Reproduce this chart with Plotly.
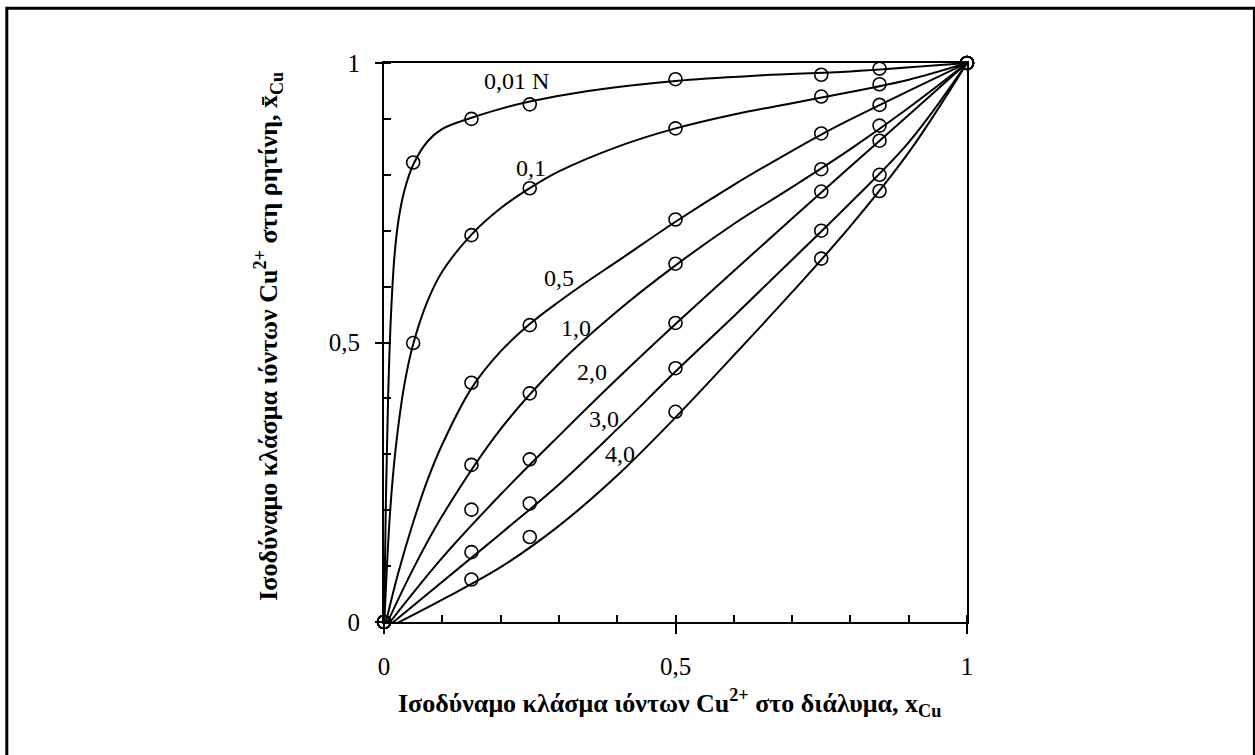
import plotly.graph_objects as go

# Normality of the solution for each isotherm
series_names = ["0,01 N", "0,1", "0,5", "1,0", "2,0", "3,0", "4,0"]

# Measured points: equivalent fraction of Cu2+ in solution (x) and in resin (y)
x_meas = [0, 0.05, 0.15, 0.25, 0.5, 0.75, 0.85, 1]
x_meas_late = [0, 0.15, 0.25, 0.5, 0.75, 0.85, 1]
y_meas_001 = [0, 0.822, 0.900, 0.926, 0.971, 0.979, 0.990, 1]
y_meas_01 = [0, 0.499, 0.692, 0.776, 0.883, 0.940, 0.962, 1]
y_meas_05 = [0, 0.428, 0.531, 0.720, 0.874, 0.925, 1]
y_meas_10 = [0, 0.281, 0.409, 0.641, 0.810, 0.888, 1]
y_meas_20 = [0, 0.201, 0.291, 0.535, 0.770, 0.861, 1]
y_meas_30 = [0, 0.125, 0.212, 0.454, 0.700, 0.800, 1]
y_meas_40 = [0, 0.076, 0.152, 0.376, 0.650, 0.771, 1]

# Fitted isotherm curves
x_fit_001 = [0, 0.003, 0.007, 0.012, 0.018, 0.025, 0.035, 0.05, 0.075, 0.1, 0.15, 0.2, 0.25, 0.35, 0.5, 0.65, 0.8, 1]
y_fit_001 = [-0.014, 0.20, 0.40, 0.55, 0.655, 0.72, 0.772, 0.818, 0.860, 0.882, 0.902, 0.918, 0.931, 0.950, 0.968, 0.978, 0.985, 1]
x_fit_01 = [0, 0.01, 0.02, 0.035, 0.05, 0.075, 0.1, 0.15, 0.2, 0.25, 0.3, 0.4, 0.5, 0.6, 0.7, 0.8, 0.9, 1]
y_fit_01 = [-0.014, 0.19, 0.31, 0.425, 0.497, 0.575, 0.627, 0.693, 0.740, 0.776, 0.806, 0.850, 0.883, 0.908, 0.928, 0.948, 0.970, 1]
x_fit_05 = [0, 0.025, 0.05, 0.075, 0.1, 0.15, 0.2, 0.25, 0.3, 0.35, 0.4, 0.5, 0.6, 0.7, 0.75, 0.8, 0.9, 1]
y_fit_05 = [-0.014, 0.090, 0.178, 0.255, 0.318, 0.418, 0.484, 0.533, 0.573, 0.610, 0.645, 0.716, 0.782, 0.843, 0.872, 0.899, 0.950, 1]
x_fit_10 = [0, 0.05, 0.1, 0.2, 0.3, 0.4, 0.5, 0.6, 0.7, 0.8, 0.9, 1]
y_fit_10 = [-0.014, 0.095, 0.190, 0.345, 0.462, 0.556, 0.638, 0.712, 0.778, 0.846, 0.920, 1]
x_fit_20 = [0, 0.1, 0.2, 0.3, 0.4, 0.5, 0.6, 0.7, 0.8, 0.9, 1]
y_fit_20 = [-0.014, 0.115, 0.228, 0.333, 0.435, 0.533, 0.628, 0.722, 0.815, 0.907, 1]
x_fit_30 = [0, 0.1, 0.2, 0.3, 0.4, 0.5, 0.6, 0.7, 0.8, 0.9, 1]
y_fit_30 = [-0.014, 0.072, 0.158, 0.246, 0.345, 0.448, 0.547, 0.648, 0.750, 0.858, 1]
x_fit_40 = [0, 0.1, 0.2, 0.3, 0.4, 0.5, 0.6, 0.7, 0.8, 0.9, 1]
y_fit_40 = [-0.014, 0.040, 0.098, 0.172, 0.262, 0.366, 0.477, 0.590, 0.708, 0.840, 1]

# Curve label anchor points (data coordinates)
label_x = [0.228, 0.252, 0.300, 0.329, 0.357, 0.377, 0.405]
label_y = [0.967, 0.813, 0.616, 0.526, 0.447, 0.363, 0.300]

x_ticks = [0, 0.5, 1]
tick_text = ["0", "0,5", "1"]

SERIF = "Liberation Serif, Times New Roman, serif"

fits = [
    (x_fit_001, y_fit_001), (x_fit_01, y_fit_01), (x_fit_05, y_fit_05),
    (x_fit_10, y_fit_10), (x_fit_20, y_fit_20), (x_fit_30, y_fit_30),
    (x_fit_40, y_fit_40),
]
meas = [
    (x_meas, y_meas_001), (x_meas, y_meas_01), (x_meas_late, y_meas_05),
    (x_meas_late, y_meas_10), (x_meas_late, y_meas_20), (x_meas_late, y_meas_30),
    (x_meas_late, y_meas_40),
]

fig = go.Figure()
for name, (fx, fy) in zip(series_names, fits):
    fig.add_trace(go.Scatter(
        x=fx, y=fy, mode="lines", name=name, showlegend=False,
        line=dict(color="black", width=2, shape="spline", smoothing=1.0),
        hoverinfo="skip",
    ))
for name, (mx, my) in zip(series_names, meas):
    fig.add_trace(go.Scatter(
        x=mx, y=my, mode="markers", name=name, showlegend=False,
        marker=dict(symbol="circle-open", size=13, color="black", line=dict(width=1.6)),
        cliponaxis=False,
    ))

for name, lx, ly in zip(series_names, label_x, label_y):
    fig.add_annotation(x=lx, y=ly, text=name, showarrow=False,
                       font=dict(family=SERIF, size=24, color="black"))

# Axis titles
fig.add_annotation(
    xref="paper", yref="paper", x=0.49, y=-0.145, xanchor="center", yanchor="middle",
    text="<b>Ισοδύναμο κλάσμα ιόντων Cu<sup>2+</sup> στο διάλυμα, x<sub>Cu</sub></b>",
    showarrow=False, font=dict(family=SERIF, size=26, color="black"),
)
fig.add_annotation(
    xref="paper", yref="paper", x=-0.199, y=0.512, xanchor="center", yanchor="middle",
    text="<b>Ισοδύναμο κλάσμα ιόντων Cu<sup>2+</sup> στη ρητίνη, x\u0304<sub>Cu</sub></b>",
    textangle=-90, showarrow=False, font=dict(family=SERIF, size=26, color="black"),
)

# Outer frame around the figure
fig.add_shape(type="rect", xref="paper", yref="paper",
              x0=-0.647, x1=1.493, y0=-0.26, y1=1.098,
              line=dict(color="black", width=3), fillcolor="rgba(0,0,0,0)", layer="below")

axis_common = dict(
    range=[0, 1], showgrid=False, zeroline=False,
    showline=True, linecolor="black", linewidth=2, mirror=True,
    tickmode="array", tickvals=x_ticks, ticktext=tick_text,
    ticks="outside", tickcolor="black", tickwidth=2,
    tickfont=dict(family=SERIF, size=25, color="black"),
    minor=dict(ticks="inside", dtick=0.1, tick0=0, ticklen=7, tickwidth=1.5, tickcolor="black"),
)

fig.update_layout(
    width=1255, height=755,
    margin=dict(l=384, r=288, t=63, b=133),
    paper_bgcolor="white", plot_bgcolor="white",
    xaxis=dict(**axis_common, ticklen=10, ticklabelstandoff=11),
    yaxis=dict(**axis_common, ticklen=7, ticklabelstandoff=10),
    # inner halves of the major ticks
    xaxis2=dict(range=[0, 1], overlaying="x", anchor="y", side="bottom",
                tickmode="array", tickvals=[0.5], ticks="inside", ticklen=9,
                tickwidth=2, tickcolor="black", showticklabels=False,
                showgrid=False, zeroline=False, showline=False),
    yaxis2=dict(range=[0, 1], overlaying="y", anchor="x", side="left",
                tickmode="array", tickvals=[0.5], ticks="inside", ticklen=9,
                tickwidth=2, tickcolor="black", showticklabels=False,
                showgrid=False, zeroline=False, showline=False),
)

fig.write_html("out.html")
